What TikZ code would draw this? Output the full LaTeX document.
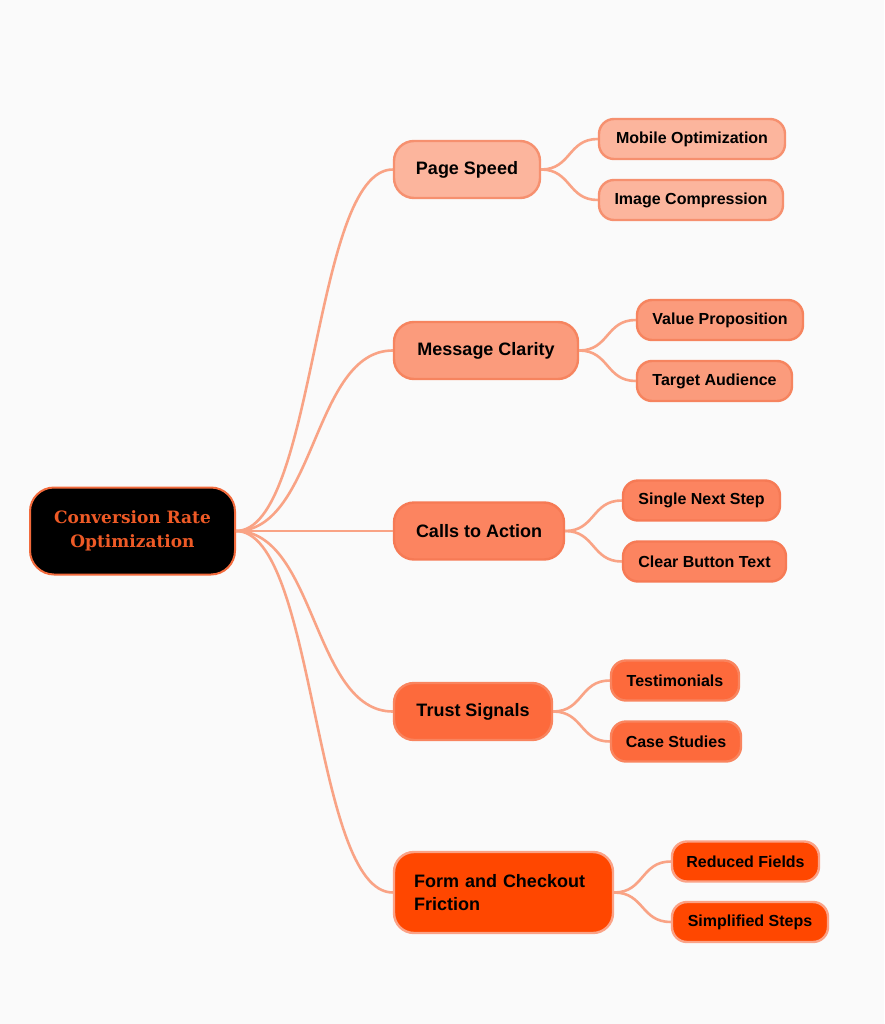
\documentclass[tikz,border=0pt]{standalone}
\usepackage{fontspec}
\setmainfont{Liberation Sans}
\newfontfamily\rootfont{DejaVu Serif}
\usetikzlibrary{calc}
\definecolor{bg}{HTML}{FAFAFA}
\definecolor{edgec}{HTML}{F9A385}
\definecolor{rootfg}{HTML}{EE5A26}
\definecolor{rootdraw}{HTML}{F26A3C}
\definecolor{cAf}{HTML}{FCB59D}\definecolor{cAd}{HTML}{F6906F}
\definecolor{cBf}{HTML}{FB9B7C}\definecolor{cBd}{HTML}{F6845F}
\definecolor{cCf}{HTML}{FC8460}\definecolor{cCd}{HTML}{F67A55}
\definecolor{cDf}{HTML}{FD6A3C}\definecolor{cDd}{HTML}{F9845E}
\definecolor{cEf}{HTML}{FF4700}\definecolor{cEd}{HTML}{FBA286}
\begin{document}
\begin{tikzpicture}[x=1pt,y=-1pt,
  edge/.style={draw=edgec,line width=2.6pt},
  rootnode/.style={draw=rootdraw,line width=2pt,fill=black,rounded corners=24pt,
    minimum width=205pt,minimum height=87pt,align=center,text=rootfg,
    font=\rootfont\bfseries\fontsize{17}{24}\selectfont,inner sep=0pt},
  branch/.style={line width=2.4pt,rounded corners=20pt,minimum height=57pt,
    inner sep=0pt,font=\bfseries\fontsize{18}{23}\selectfont,text=black},
  leaf/.style={line width=2.4pt,rounded corners=15pt,minimum height=40pt,
    inner sep=0pt,font=\bfseries\fontsize{16}{19}\selectfont,text=black},
  lvA/.style={fill=cAf,draw=cAd},
  lvB/.style={fill=cBf,draw=cBd},
  lvC/.style={fill=cCf,draw=cCd},
  lvD/.style={fill=cDf,draw=cDd},
  lvE/.style={fill=cEf,draw=cEd}]
\useasboundingbox (0,0) rectangle (884,1024);
\fill[bg] (0,0) rectangle (884,1024);

\node[rootnode] (root) at (132.5,531) {Conversion Rate\\Optimization};

\node[branch,lvA,minimum width=146pt] (ps) at (467,169.5) {Page Speed};
\node[leaf,lvA,minimum width=186pt] (mo) at (692,139) {Mobile Optimization};
\node[leaf,lvA,minimum width=184pt] (ic) at (691,200) {Image Compression};

\node[branch,lvB,minimum width=184pt] (mc) at (486,350.5) {Message Clarity};
\node[leaf,lvB,minimum width=166pt] (vp) at (720,320) {Value Proposition};
\node[leaf,lvB,minimum width=155pt] (ta) at (714.5,381) {Target Audience};

\node[branch,lvC,minimum width=170pt] (ca) at (479,531) {Calls to Action};
\node[leaf,lvC,minimum width=157pt] (sn) at (701.5,500.5) {Single Next Step};
\node[leaf,lvC,minimum width=163pt] (cb) at (704.5,561.5) {Clear Button Text};

\node[branch,lvD,minimum width=158pt] (ts) at (473,711.5) {Trust Signals};
\node[leaf,lvD,minimum width=128pt] (te) at (675,680.5) {Testimonials};
\node[leaf,lvD,minimum width=130pt] (cs) at (676,741.5) {Case Studies};

\node[branch,lvE,minimum width=219pt,minimum height=81pt,align=left,
  text width=179pt,inner xsep=20pt] (fc) at (503.5,892.5) {Form and Checkout\\Friction};
\node[leaf,lvE,minimum width=147pt] (rf) at (745.5,861.5) {Reduced Fields};
\node[leaf,lvE,minimum width=156pt] (ss) at (750,922) {Simplified Steps};

\foreach \b in {ps,mc,ca,ts,fc}{
  \draw[edge] (root.east) .. controls ($(root.east)+(80,0)$) and ($(\b.west)+(-80,0)$) .. (\b.west);
}
\foreach \b/\l in {ps/mo,ps/ic,mc/vp,mc/ta,ca/sn,ca/cb,ts/te,ts/cs,fc/rf,fc/ss}{
  \draw[edge] (\b.east) .. controls ($(\b.east)+(30,0)$) and ($(\l.west)+(-30,0)$) .. (\l.west);
}
\end{tikzpicture}
\end{document}
